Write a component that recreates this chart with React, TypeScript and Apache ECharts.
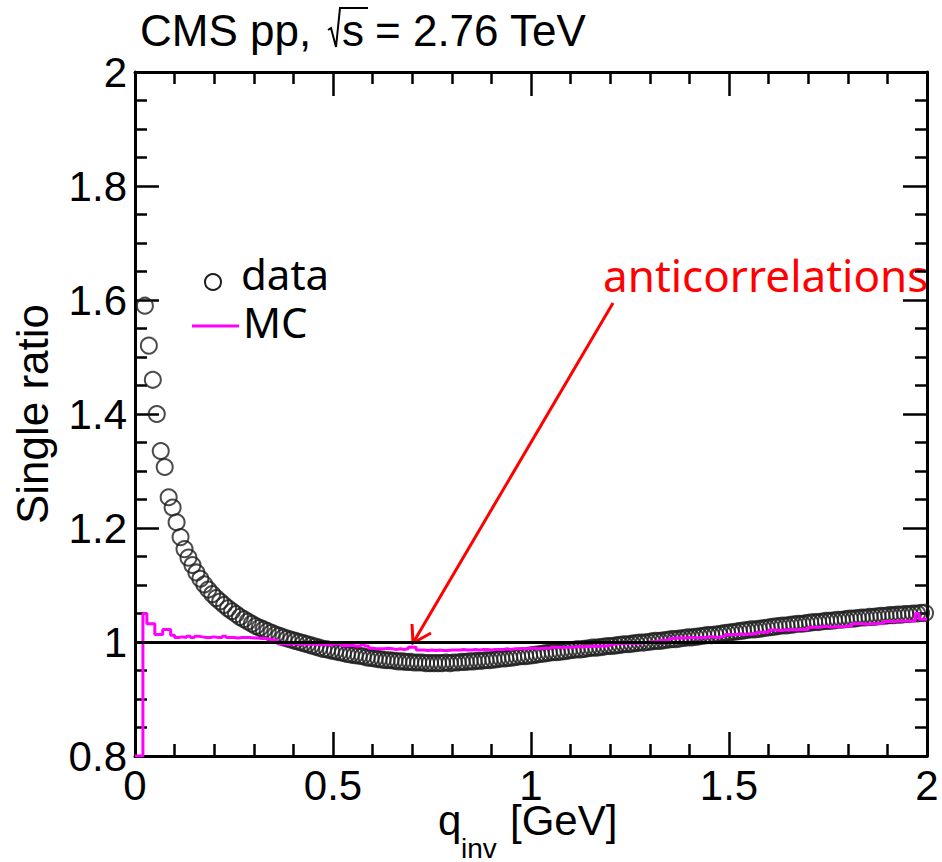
import React, { useEffect, useRef } from "react";
import * as echarts from "echarts";

// ---- axis definitions ----
const X_MIN = 0;
const X_MAX = 2;
const X_INTERVAL = 0.5;
const Y_MIN = 0.8;
const Y_MAX = 2;
const Y_INTERVAL = 0.2;

// ---- binning (bin width 0.01 GeV) ----
const BIN_WIDTH = 0.01;
const DATA_FIRST_CENTER = 0.025; // first visible data bin centre

// data: single ratio, bin centres 0.025 ... 1.995
const dataValues = [
  1.590, 1.520, 1.460, 1.400, 1.335, 1.307, 1.254, 1.236, 1.210, 1.184,
  1.163, 1.148, 1.135, 1.122, 1.111, 1.101, 1.092, 1.084, 1.077, 1.071,
  1.065, 1.059, 1.054, 1.049, 1.044, 1.040, 1.036, 1.032, 1.028, 1.025,
  1.022, 1.019, 1.016, 1.013, 1.011, 1.008, 1.006, 1.004, 1.002, 1.000,
  0.998, 0.996, 0.994, 0.992, 0.990, 0.988, 0.987, 0.985, 0.984, 0.982,
  0.981, 0.979, 0.978, 0.977, 0.976, 0.975, 0.973, 0.972, 0.971, 0.970,
  0.969, 0.968, 0.968, 0.967, 0.966, 0.966, 0.965, 0.965, 0.964, 0.964,
  0.964, 0.963, 0.963, 0.963, 0.963, 0.963, 0.964, 0.963, 0.964, 0.964,
  0.965, 0.965, 0.966, 0.966, 0.967, 0.967, 0.968, 0.968, 0.969, 0.970,
  0.971, 0.971, 0.972, 0.973, 0.974, 0.975, 0.975, 0.976, 0.977, 0.978,
  0.979, 0.980, 0.981, 0.982, 0.982, 0.983, 0.984, 0.985, 0.986, 0.987,
  0.987, 0.988, 0.989, 0.990, 0.990, 0.991, 0.992, 0.993, 0.993, 0.994,
  0.995, 0.996, 0.996, 0.997, 0.998, 0.999, 0.999, 1.000, 1.001, 1.002,
  1.002, 1.003, 1.004, 1.005, 1.005, 1.006, 1.007, 1.008, 1.008, 1.009,
  1.010, 1.011, 1.012, 1.012, 1.013, 1.014, 1.015, 1.016, 1.017, 1.018,
  1.019, 1.020, 1.021, 1.022, 1.022, 1.023, 1.024, 1.025, 1.026, 1.027,
  1.028, 1.029, 1.029, 1.030, 1.031, 1.032, 1.032, 1.033, 1.034, 1.035,
  1.035, 1.036, 1.037, 1.037, 1.038, 1.039, 1.039, 1.040, 1.041, 1.041,
  1.042, 1.043, 1.043, 1.044, 1.044, 1.045, 1.046, 1.046, 1.047, 1.047,
  1.048, 1.048, 1.049, 1.049, 1.050, 1.050, 1.051, 1.051,
];

// MC histogram: bins 0.00-0.01 ... 1.99-2.00 (values below 0.8 drawn at frame floor)
const mcValues = [
  0.800, 0.800, 1.050, 1.032, 1.032, 1.013, 1.013, 1.022, 1.022, 1.012,
  1.008, 1.009, 1.008, 1.010, 1.008, 1.010, 1.009, 1.008, 1.008, 1.009,
  1.008, 1.008, 1.010, 1.008, 1.008, 1.007, 1.008, 1.008, 1.008, 1.007,
  1.007, 1.006, 1.006, 1.005, 1.004, 1.003, 0.997, 0.997, 0.996, 0.997,
  0.997, 0.996, 0.997, 0.996, 0.996, 0.996, 0.995, 0.996, 0.995, 0.995,
  0.997, 0.997, 0.994, 0.994, 0.994, 0.993, 0.993, 0.995, 0.993, 0.989,
  0.988, 0.988, 0.988, 0.989, 0.988, 0.987, 0.988, 0.987, 0.988, 0.991,
  0.991, 0.986, 0.986, 0.985, 0.986, 0.985, 0.986, 0.985, 0.985, 0.986,
  0.986, 0.986, 0.987, 0.986, 0.986, 0.987, 0.986, 0.987, 0.987, 0.986,
  0.987, 0.987, 0.987, 0.988, 0.987, 0.988, 0.988, 0.988, 0.988, 0.989,
  0.989, 0.988, 0.989, 0.989, 0.989, 0.991, 0.991, 0.990, 0.991, 0.991,
  0.991, 0.992, 0.991, 0.992, 0.992, 0.993, 0.992, 0.993, 0.993, 0.994,
  0.996, 0.997, 0.997, 0.997, 0.998, 0.997, 0.998, 0.998, 0.999, 0.999,
  1.001, 1.002, 1.003, 1.003, 1.004, 1.006, 1.007, 1.007, 1.007, 1.008,
  1.008, 1.007, 1.008, 1.008, 1.009, 1.009, 1.008, 1.009, 1.010, 1.013,
  1.013, 1.013, 1.014, 1.013, 1.014, 1.014, 1.015, 1.017, 1.017, 1.017,
  1.021, 1.021, 1.020, 1.021, 1.021, 1.022, 1.021, 1.022, 1.022, 1.022,
  1.026, 1.026, 1.026, 1.027, 1.027, 1.026, 1.027, 1.027, 1.027, 1.028,
  1.028, 1.032, 1.032, 1.032, 1.031, 1.032, 1.032, 1.033, 1.032, 1.036,
  1.036, 1.036, 1.037, 1.037, 1.037, 1.037, 1.037, 1.050, 1.040, 1.040,
];

const REFERENCE_LEVEL = 1;

const TITLE_LEFT = "CMS pp,";
const TITLE_S = "s";
const TITLE_RIGHT = "= 2.76 TeV";
const Y_NAME = "Single ratio";
const LEGEND_DATA = "data";
const LEGEND_MC = "MC";
const ANNOTATION = "anticorrelations";

const ARIAL = "'Liberation Sans', Arial, sans-serif";
const TAHOMA = "'Noto Sans', 'DejaVu Sans', sans-serif";

export default function App() {
  const ref = useRef<HTMLDivElement>(null);

  useEffect(() => {
    if (!ref.current) return;
    const chart = echarts.init(ref.current, undefined, { renderer: "svg" });

    const dataPoints = dataValues.map((v, i) => [DATA_FIRST_CENTER + i * BIN_WIDTH, v]);
    const mcPoints = mcValues.map((v, i) => [i * BIN_WIDTH, v]);
    mcPoints.push([mcValues.length * BIN_WIDTH, mcValues[mcValues.length - 1]]);

    const axisLine = { show: true, onZero: false, lineStyle: { color: "#000", width: 3 } };
    const tick = { show: true, inside: true, length: 24, lineStyle: { color: "#000", width: 2.5 } };
    const minor = (n: number) => ({
      show: true,
      splitNumber: n,
      length: 12,
      lineStyle: { color: "#000", width: 2.5 },
    });
    const labelStyle = {
      color: "#000",
      fontFamily: ARIAL,
      fontSize: 42,
      lineHeight: 34,
    };

    const textEl = (
      text: string,
      x: number,
      y: number,
      fontSize: number,
      fontFamily: string,
      fill: string,
      align: string = "left",
      extra: any = {}
    ) => ({
      type: "text",
      x,
      y,
      silent: true,
      ...extra,
      style: {
        text,
        x: 0,
        y: 0,
        fill,
        fontSize,
        fontFamily,
        lineHeight: Math.round(fontSize * 0.8),
        align,
        textAlign: align,
        verticalAlign: "middle",
        textVerticalAlign: "middle",
      },
    });

    const option: any = {
      animation: false,
      backgroundColor: "#fff",
      grid: { left: 135, right: 15, top: 72, bottom: 106, containLabel: false },
      xAxis: [
        {
          type: "value",
          min: X_MIN,
          max: X_MAX,
          interval: X_INTERVAL,
          position: "bottom",
          axisLine,
          axisTick: tick,
          minorTick: minor(5),
          splitLine: { show: false },
          minorSplitLine: { show: false },
          axisLabel: { ...labelStyle, margin: 12, showMinLabel: true, showMaxLabel: true },
        },
        {
          type: "value",
          min: X_MIN,
          max: X_MAX,
          interval: X_INTERVAL,
          position: "top",
          axisLine,
          axisTick: tick,
          minorTick: minor(5),
          splitLine: { show: false },
          axisLabel: { show: false },
        },
      ],
      yAxis: [
        {
          type: "value",
          min: Y_MIN,
          max: Y_MAX,
          interval: Y_INTERVAL,
          position: "left",
          axisLine,
          axisTick: tick,
          minorTick: minor(4),
          splitLine: { show: false },
          minorSplitLine: { show: false },
          axisLabel: { ...labelStyle, margin: 8, showMinLabel: true, showMaxLabel: true },
        },
        {
          type: "value",
          min: Y_MIN,
          max: Y_MAX,
          interval: Y_INTERVAL,
          position: "right",
          axisLine,
          axisTick: tick,
          minorTick: minor(4),
          splitLine: { show: false },
          axisLabel: { show: false },
        },
      ],
      series: [
        {
          type: "scatter",
          name: "data",
          xAxisIndex: 0,
          yAxisIndex: 0,
          data: dataPoints,
          symbol: "circle",
          symbolSize: 16,
          z: 2,
          itemStyle: { color: "rgba(0,0,0,0)", borderColor: "#1e1e1e", borderWidth: 2 },
          markLine: {
            silent: true,
            symbol: ["none", "none"],
            label: { show: false },
            lineStyle: { color: "#000", type: "solid", width: 3 },
            data: [{ yAxis: REFERENCE_LEVEL }],
          },
        },
        {
          type: "line",
          name: "MC",
          xAxisIndex: 0,
          yAxisIndex: 0,
          data: mcPoints,
          step: "end",
          showSymbol: false,
          symbol: "none",
          z: 3,
          lineStyle: { color: "#ff00ff", width: 3 },
        },
      ],
      graphic: [
        // title
        textEl(TITLE_LEFT, 140, 30, 44, ARIAL, "#000"),
        {
          type: "polyline",
          silent: true,
          shape: { points: [[328, 30], [331, 28], [336, 47], [340, 8], [368, 8]] },
          style: { stroke: "#000", lineWidth: 2, fill: "none" },
        },
        textEl(TITLE_S, 342, 30, 44, ARIAL, "#000"),
        textEl(TITLE_RIGHT, 375, 30, 44, ARIAL, "#000"),
        // y axis name
        textEl(Y_NAME, 32, 414, 44, ARIAL, "#000", "center", { rotation: Math.PI / 2 }),
        // x axis name
        textEl("q", 438, 820, 42, ARIAL, "#000"),
        textEl("inv", 461, 848, 28, ARIAL, "#000"),
        textEl("[GeV]", 510, 820, 42, ARIAL, "#000"),
        // legend
        {
          type: "circle",
          silent: true,
          shape: { cx: 213, cy: 282, r: 8 },
          style: { stroke: "#1e1e1e", lineWidth: 2, fill: "none" },
        },
        textEl(LEGEND_DATA, 241, 273, 42, TAHOMA, "#000"),
        {
          type: "line",
          silent: true,
          shape: { x1: 192, y1: 326, x2: 239, y2: 326 },
          style: { stroke: "#ff00ff", lineWidth: 3 },
        },
        textEl(LEGEND_MC, 243, 321, 42, TAHOMA, "#000"),
        // annotation
        textEl(ANNOTATION, 603, 275, 44, TAHOMA, "#ff0000"),
        {
          type: "line",
          silent: true,
          shape: { x1: 613, y1: 303, x2: 413, y2: 643 },
          style: { stroke: "#ff0000", lineWidth: 3 },
        },
        {
          type: "polyline",
          silent: true,
          shape: { points: [[412, 624], [413, 643], [431, 633]] },
          style: { stroke: "#ff0000", lineWidth: 3, fill: "none" },
        },
      ],
    };

    chart.setOption(option);
    return () => chart.dispose();
  }, []);

  return (
    <div
      ref={ref}
      style={{ position: "fixed", left: 0, top: 0, width: 942, height: 862, background: "#fff" }}
    />
  );
}
